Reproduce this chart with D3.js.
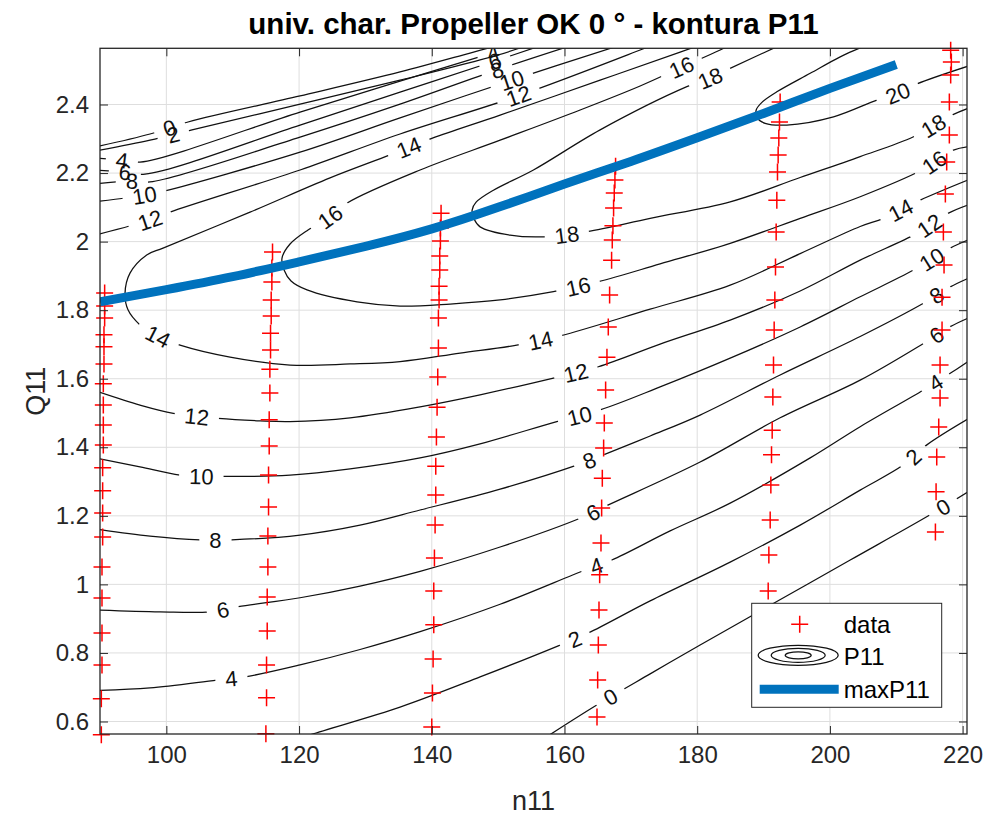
<!DOCTYPE html>
<html>
<head>
<meta charset="utf-8">
<script src="https://cdn.jsdelivr.net/npm/d3@7"></script>
<style>
  body { margin: 0; background: #fff; }
  text { font-family: "Liberation Sans", Arial, Helvetica, sans-serif; }
</style>
</head>
<body>
<svg id="chart" width="994" height="821"></svg>
<script>
// ---- axis ticks ----
const nTicks = [100, 120, 140, 160, 180, 200, 220];
const qTicks = [0.6, 0.8, 1, 1.2, 1.4, 1.6, 1.8, 2, 2.2, 2.4];
const qTickLabels = ["0.6", "0.8", "1", "1.2", "1.4", "1.6", "1.8", "2", "2.2", "2.4"];

// ---- measured operating points (n11, Q11), one array per run ----
const run1 = [[90.7,1.850],[90.7,1.812],[90.7,1.777],[90.6,1.728],[90.6,1.693],[90.6,1.643],[90.5,1.585],[90.5,1.523],[90.5,1.465],[90.5,1.407],[90.4,1.340],[90.4,1.273],[90.4,1.208],[90.4,1.138],[90.3,1.051],[90.3,0.960],[90.3,0.858],[90.3,0.765],[90.2,0.666],[90.2,0.561]];
const run2 = [[116.0,1.970],[115.9,1.923],[115.9,1.882],[115.8,1.830],[115.8,1.783],[115.7,1.733],[115.7,1.684],[115.6,1.628],[115.6,1.558],[115.5,1.480],[115.5,1.404],[115.4,1.319],[115.4,1.226],[115.3,1.141],[115.3,1.051],[115.2,0.963],[115.2,0.864],[115.1,0.765],[115.1,0.669],[115.0,0.564]];
const run3 = [[141.4,2.083],[141.3,2.040],[141.3,2.002],[141.2,1.958],[141.2,1.917],[141.1,1.870],[141.1,1.830],[141.0,1.777],[141.0,1.690],[140.9,1.605],[140.8,1.517],[140.7,1.430],[140.6,1.345],[140.6,1.261],[140.5,1.173],[140.4,1.077],[140.3,0.981],[140.3,0.882],[140.2,0.782],[140.1,0.683],[140.0,0.584]];
const run4 = [[167.7,2.220],[167.6,2.180],[167.5,2.142],[167.4,2.098],[167.3,2.046],[167.2,2.005],[167.1,1.946],[166.8,1.844],[166.6,1.751],[166.4,1.663],[166.2,1.567],[166.0,1.471],[165.9,1.398],[165.7,1.310],[165.6,1.223],[165.5,1.121],[165.3,1.028],[165.2,0.925],[165.1,0.823],[165.0,0.721],[164.9,0.613]];
const run5 = [[192.5,2.407],[192.4,2.349],[192.3,2.302],[192.2,2.253],[192.1,2.203],[192.0,2.121],[191.9,2.028],[191.8,1.926],[191.7,1.830],[191.6,1.742],[191.5,1.640],[191.4,1.547],[191.3,1.450],[191.2,1.378],[191.1,1.290],[191.0,1.188],[190.8,1.086],[190.7,0.981]];
const run6 = [[218.2,2.558],[218.3,2.524],[218.2,2.486],[218.0,2.407],[218.0,2.311],[217.6,2.232],[217.4,2.139],[217.1,2.028],[217.2,1.932],[216.9,1.838],[216.9,1.742],[216.6,1.640],[216.6,1.544],[216.4,1.459],[216.1,1.372],[216.0,1.270],[215.9,1.153]];

// ---- ridge of maximum P11 ----
const maxN11 = [90, 100, 110, 120, 130, 140, 150, 160, 170, 180, 190, 200, 210];
const maxQ11 = [1.824, 1.860, 1.898, 1.941, 1.986, 2.037, 2.100, 2.168, 2.234, 2.303, 2.374, 2.447, 2.517];

// ---- P11 iso-lines (n11, Q11) ----
const iso0  = [[156.33,0.543],[164.87,0.648],[172.91,0.739],[180.44,0.823],[192.00,0.950],[203.06,1.071],[215.11,1.203],[220.84,1.270]];
const iso2  = [[118.64,0.540],[121.66,0.561],[135.22,0.642],[147.28,0.730],[159.34,0.823],[163.56,0.858],[172.91,0.952],[184.97,1.065],[195.52,1.173],[204.56,1.275],[211.04,1.348],[214.61,1.407],[220.84,1.483]];
const iso4  = [[90,0.691],[97.54,0.698],[107.59,0.721],[112.11,0.731],[120.15,0.765],[129.19,0.810],[138.24,0.862],[150.30,0.942],[163.11,1.042],[167.13,1.071],[175.92,1.156],[184.97,1.237],[197.03,1.369],[204.56,1.460],[214.10,1.567],[218.13,1.616],[220.84,1.650]];
const iso6  = [[90,0.925],[99.04,0.920],[106.58,0.920],[110.85,0.935],[120.15,0.961],[129.19,0.995],[138.24,1.038],[150.30,1.109],[162.35,1.193],[166.62,1.232],[180.44,1.357],[192.50,1.486],[204.56,1.596],[214.10,1.703],[218.13,1.752],[220.84,1.777]];
const iso8  = [[90,1.160],[97.54,1.141],[105.07,1.130],[109.85,1.130],[120.15,1.144],[129.19,1.173],[138.24,1.217],[150.30,1.278],[161.86,1.348],[165.87,1.378],[172.91,1.433],[180.44,1.494],[192.50,1.611],[204.56,1.723],[214.10,1.820],[218.13,1.868],[220.84,1.893]];
const iso10 = [[90,1.366],[96.03,1.343],[102.06,1.319],[108.58,1.315],[118.64,1.319],[127.69,1.337],[138.24,1.369],[147.28,1.410],[158.84,1.475],[165.37,1.509],[174.41,1.576],[184.97,1.660],[195.52,1.751],[204.56,1.839],[212.60,1.917],[218.13,1.981],[220.84,2.005]];
const iso12 = [[90,1.560],[96.03,1.523],[101.05,1.499],[107.83,1.484],[114.12,1.477],[118.64,1.475],[127.69,1.486],[138.24,1.518],[147.28,1.553],[158.33,1.602],[165.11,1.635],[174.41,1.701],[184.97,1.771],[195.52,1.856],[204.56,1.946],[213.11,2.024],[217.87,2.083],[220.84,2.107]];
const iso14 = [[220.84,2.180],[213.61,2.121],[208.08,2.068],[204.56,2.044],[195.52,1.965],[184.97,1.873],[172.91,1.803],[159.34,1.725],[152.81,1.698],[144.27,1.675],[135.22,1.650],[127.69,1.643],[118.64,1.640],[109.60,1.663],[102.06,1.698],[98.79,1.723],[96.03,1.757],[94.22,1.801],[93.77,1.849],[94.52,1.908],[97.04,1.961],[99.50,1.981],[112.61,2.086],[124.67,2.186],[133.71,2.253],[140.00,2.301],[150.30,2.369],[165.37,2.471],[177.43,2.553],[183.46,2.594]];
const iso16 = [[220.84,2.277],[218.62,2.267],[213.86,2.209],[204.56,2.131],[195.52,2.068],[184.97,1.995],[174.41,1.935],[165.11,1.883],[158.33,1.854],[150.30,1.830],[142.76,1.818],[135.22,1.812],[128.74,1.824],[121.20,1.859],[118.79,1.885],[117.74,1.917],[117.43,1.952],[118.64,1.993],[121.35,2.034],[124.67,2.072],[127.19,2.112],[138.24,2.209],[150.30,2.296],[162.36,2.384],[171.40,2.454],[177.68,2.509],[183.46,2.559],[186.47,2.588]];
const iso18 = [[220.84,2.389],[218.38,2.369],[212.60,2.306],[204.56,2.248],[195.52,2.187],[184.97,2.116],[172.91,2.068],[163.37,2.029],[156.82,2.014],[151.80,2.019],[147.28,2.043],[146.38,2.066],[146.08,2.092],[146.68,2.115],[149.29,2.150],[155.32,2.209],[165.37,2.326],[178.44,2.452],[181.95,2.477],[184.47,2.501],[192.50,2.573],[195.52,2.600]];
const iso20 = [[206.82,2.588],[205.06,2.570],[201.55,2.539],[197.03,2.491],[192.00,2.437],[189.79,2.407],[188.89,2.384],[189.04,2.361],[190.24,2.345],[193.51,2.340],[200.54,2.364],[207.08,2.413],[210.22,2.433],[213.11,2.460],[220.84,2.512]];
// branches above the ridge on the low-n11 side
const iso0b  = [[89.25,2.276],[97.54,2.314],[103.27,2.349],[120.15,2.425],[135.22,2.495],[145.77,2.550],[150.30,2.574]];
const iso2b  = [[89.25,2.264],[97.54,2.296],[103.87,2.326],[120.15,2.401],[135.22,2.471],[147.28,2.530],[153.31,2.565],[154.82,2.577]];
const iso4b  = [[89.25,2.244],[93.27,2.238],[96.03,2.232],[120.15,2.378],[135.22,2.468],[149.54,2.553],[153.31,2.576]];
const iso6b  = [[89.25,2.209],[93.77,2.203],[96.78,2.197],[120.15,2.340],[135.22,2.436],[149.54,2.527],[156.33,2.571]];
const iso8b  = [[89.25,2.168],[94.78,2.177],[97.54,2.174],[120.15,2.305],[135.22,2.401],[149.84,2.501],[160.85,2.571]];
const iso10b = [[89.25,2.116],[96.78,2.136],[99.80,2.148],[120.15,2.261],[135.22,2.361],[152.10,2.471],[168.38,2.573]];
const iso12b = [[89.25,2.019],[97.54,2.063],[100.55,2.086],[120.15,2.209],[135.22,2.314],[153.01,2.425],[171.40,2.559],[174.41,2.582]];

// ---- inline contour labels: level, n11, Q11 ----
const labelLevel = [0,0,0, 2,2,2, 4,4,4,4,4, 6,6,6,6,6, 8,8,8,8,8, 10,10,10,10,10, 12,12,12,12,12, 14,14,14,14, 16,16,16,16, 18,18,18, 20];
const labelN11   = [166.88,216.92,100.25, 161.60,212.70,100.85, 109.85,164.87,216.02,93.27,149.24, 108.58,164.36,216.17,93.77,149.54, 107.33,163.86,216.02,94.78,149.84, 105.33,162.36,215.37,96.78,152.10, 104.58,161.86,215.11,97.54,153.01, 98.79,156.33,210.59,136.73, 162.10,215.87,124.67,177.68, 160.35,215.71,181.95, 210.22];
const labelQ11   = [0.672,1.232,2.343, 0.835,1.369,2.323, 0.718,1.048,1.585,2.238,2.550, 0.920,1.207,1.725,2.203,2.527, 1.120,1.353,1.844,2.177,2.501, 1.314,1.489,1.946,2.136,2.471, 1.485,1.606,2.044,2.063,2.425, 1.723,1.713,2.092,2.267, 1.864,2.229,2.072,2.509, 2.014,2.333,2.477, 2.433];

const contourLines = [
  {level: 0, pts: iso0}, {level: 2, pts: iso2}, {level: 4, pts: iso4}, {level: 6, pts: iso6},
  {level: 8, pts: iso8}, {level: 10, pts: iso10}, {level: 12, pts: iso12}, {level: 14, pts: iso14},
  {level: 16, pts: iso16}, {level: 18, pts: iso18}, {level: 20, pts: iso20},
  {level: 0, pts: iso0b}, {level: 2, pts: iso2b}, {level: 4, pts: iso4b}, {level: 6, pts: iso6b},
  {level: 8, pts: iso8b}, {level: 10, pts: iso10b}, {level: 12, pts: iso12b}
];
const runs = [run1, run2, run3, run4, run5, run6];

// ---- layout ----
const W = 994, H = 821;
const pL = 100, pR = 967, pT = 48.3, pB = 734;
const svg = d3.select("#chart");
const x = d3.scaleLinear().domain([90, 220.66]).range([pL, pR]);
const y = d3.scaleLinear().domain([0.5635, 2.564]).range([pB, pT]);
const axisColor = "#262626";
const fontTick = 24, fontLabel = 27, fontTitle = 29.5, fontLegend = 24, fontContour = 22;

svg.append("rect").attr("width", W).attr("height", H).attr("fill", "#fff");
const defs = svg.append("defs");
defs.append("clipPath").attr("id", "plotArea")
  .append("rect").attr("x", pL).attr("y", pT).attr("width", pR - pL).attr("height", pB - pT);

// grid
const grid = svg.append("g").attr("stroke", "#dedede").attr("stroke-width", 1);
grid.selectAll(".gx").data(nTicks).join("line")
  .attr("x1", d => x(d)).attr("x2", d => x(d)).attr("y1", pT).attr("y2", pB);
grid.selectAll(".gy").data(qTicks).join("line")
  .attr("x1", pL).attr("x2", pR).attr("y1", d => y(d)).attr("y2", d => y(d));

// contour lines, one mask per level so label gaps only cut their own line
const levels = Array.from(new Set(contourLines.map(c => c.level)));
const masks = {};
levels.forEach(L => {
  const m = defs.append("mask").attr("id", "gap" + L).attr("maskUnits", "userSpaceOnUse")
    .attr("x", 0).attr("y", 0).attr("width", W).attr("height", H);
  m.append("rect").attr("width", W).attr("height", H).attr("fill", "#fff");
  masks[L] = m;
});

const line = d3.line().x(d => x(d[0])).y(d => y(d[1])).curve(d3.curveCatmullRom.alpha(0.5));
const contourG = svg.append("g").attr("clip-path", "url(#plotArea)");
const paths = contourLines.map(c => {
  const p = contourG.append("path").attr("d", line(c.pts))
    .attr("fill", "none").attr("stroke", "#111").attr("stroke-width", 1.25)
    .attr("mask", "url(#gap" + c.level + ")");
  return {level: c.level, node: p.node()};
});

// sampled copies of every iso-line, used to seat the labels on the curve
const sampled = paths.map(p => {
  const len = p.node.getTotalLength();
  const pts = [];
  for (let s = 0; s <= len; s += 1) { const q = p.node.getPointAtLength(s); pts.push([q.x, q.y]); }
  return {level: p.level, pts};
});

const labelG = svg.append("g").attr("clip-path", "url(#plotArea)");
labelLevel.forEach((L, i) => {
  const px = x(labelN11[i]), py = y(labelQ11[i]);
  let best = null, bestD = Infinity, bestPts = null, bestK = 0;
  sampled.filter(s => s.level === L).forEach(s => {
    s.pts.forEach((q, k) => {
      const d = (q[0] - px) ** 2 + (q[1] - py) ** 2;
      if (d < bestD) { bestD = d; best = q; bestPts = s.pts; bestK = k; }
    });
  });
  const a = bestPts[Math.max(0, bestK - 4)], b = bestPts[Math.min(bestPts.length - 1, bestK + 4)];
  let ang = Math.atan2(b[1] - a[1], b[0] - a[0]) * 180 / Math.PI;
  if (ang > 90) ang -= 180;
  if (ang < -90) ang += 180;
  const t = labelG.append("text")
    .attr("transform", `translate(${best[0]},${best[1]}) rotate(${ang})`)
    .attr("text-anchor", "middle").attr("dy", "0.36em")
    .attr("font-size", fontContour).attr("fill", "#111").text(L);
  const w = t.node().getComputedTextLength();
  masks[L].append("rect")
    .attr("x", -w / 2 - 10).attr("y", -8).attr("width", w + 20).attr("height", 16)
    .attr("transform", `translate(${best[0]},${best[1]}) rotate(${ang})`)
    .attr("fill", "#000");
});

// measured points
const plus = "M-8.5,0H8.5M0,-8.5V8.5";
const dataG = svg.append("g").attr("stroke", "#ff0000").attr("stroke-width", 1.5).attr("fill", "none");
runs.forEach(r => {
  dataG.selectAll(null).data(r).join("path")
    .attr("d", plus).attr("transform", d => `translate(${x(d[0])},${y(d[1])})`);
});

// max P11 ridge
const ridge = maxN11.map((n, i) => [n, maxQ11[i]]);
svg.append("path").attr("clip-path", "url(#plotArea)")
  .attr("d", d3.line().x(d => x(d[0])).y(d => y(d[1])).curve(d3.curveNatural)(ridge))
  .attr("fill", "none").attr("stroke", "#0072BD").attr("stroke-width", 9);

// axes
const xAxis = svg.append("g").attr("transform", `translate(0,${pB})`)
  .call(d3.axisBottom(x).tickValues(nTicks).tickSize(-8).tickPadding(12).tickFormat(d3.format("d")));
const xTop = svg.append("g").attr("transform", `translate(0,${pT})`)
  .call(d3.axisTop(x).tickValues(nTicks).tickSize(-8).tickFormat(""));
const yAxis = svg.append("g").attr("transform", `translate(${pL},0)`)
  .call(d3.axisLeft(y).tickValues(qTicks).tickSize(-8).tickPadding(11).tickFormat((d, i) => qTickLabels[i]));
const yRight = svg.append("g").attr("transform", `translate(${pR},0)`)
  .call(d3.axisRight(y).tickValues(qTicks).tickSize(-8).tickFormat(""));
[xAxis, xTop, yAxis, yRight].forEach(g => {
  g.select(".domain").remove();
  g.selectAll(".tick line").attr("stroke", axisColor).attr("stroke-width", 1);
  g.selectAll(".tick text").attr("fill", axisColor).attr("font-size", fontTick)
    .attr("font-family", "'Liberation Sans', Arial, sans-serif");
});
svg.append("rect").attr("x", pL).attr("y", pT).attr("width", pR - pL).attr("height", pB - pT)
  .attr("fill", "none").attr("stroke", axisColor).attr("stroke-width", 1.3);

// titles
svg.append("text").attr("x", (pL + pR) / 2).attr("y", 34).attr("text-anchor", "middle")
  .attr("font-size", fontTitle).attr("font-weight", "bold").attr("fill", "#000")
  .text("univ. char. Propeller OK 0 ° - kontura P11");
svg.append("text").attr("x", (pL + pR) / 2).attr("y", 810).attr("text-anchor", "middle")
  .attr("font-size", fontLabel).attr("fill", axisColor).text("n11");
svg.append("text").attr("transform", `translate(45,${(pT + pB) / 2}) rotate(-90)`)
  .attr("text-anchor", "middle").attr("font-size", fontLabel).attr("fill", axisColor).text("Q11");

// legend
const lg = svg.append("g").attr("transform", "translate(751.7,603.3)");
lg.append("rect").attr("width", 190).attr("height", 104).attr("fill", "#fff")
  .attr("stroke", axisColor).attr("stroke-width", 1);
lg.append("path").attr("d", plus).attr("transform", "translate(48,21)")
  .attr("stroke", "#ff0000").attr("stroke-width", 1.5);
[[40, 10], [27, 7], [13, 3.5]].forEach(e => {
  lg.append("ellipse").attr("cx", 46.5).attr("cy", 52).attr("rx", e[0]).attr("ry", e[1])
    .attr("fill", "none").attr("stroke", "#111").attr("stroke-width", 1.25);
});
lg.append("line").attr("x1", 8).attr("x2", 87).attr("y1", 86).attr("y2", 86)
  .attr("stroke", "#0072BD").attr("stroke-width", 9);
const legendLabels = ["data", "P11", "maxP11"];
const legendY = [21, 53, 86.5];
legendLabels.forEach((s, i) => {
  lg.append("text").attr("x", 92).attr("y", legendY[i]).attr("dy", "0.35em")
    .attr("font-size", fontLegend).attr("fill", "#000").text(s);
});
</script>
</body>
</html>
